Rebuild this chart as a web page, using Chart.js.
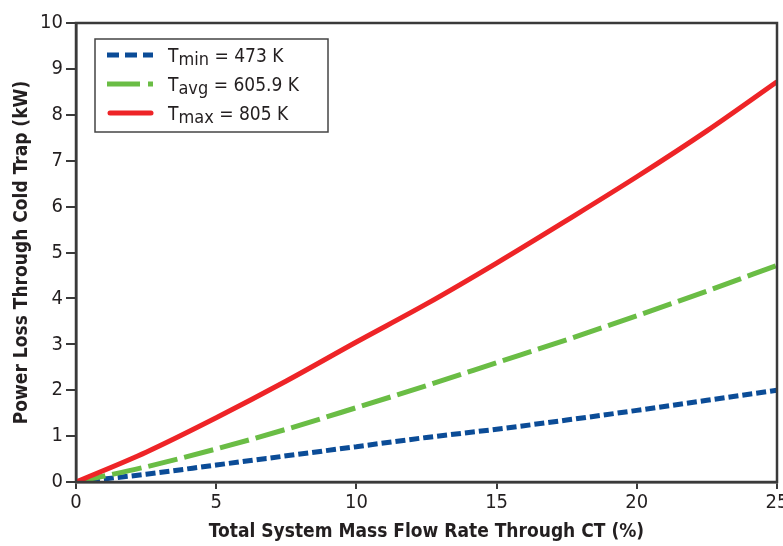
<!DOCTYPE html>
<html>
<head>
<meta charset="utf-8">
<script src="https://cdn.jsdelivr.net/npm/chart.js@4.4.0/dist/chart.umd.min.js"></script>
<style>
  html, body { margin: 0; padding: 0; background: #fff; }
  #wrap { width: 783px; height: 546px; }
</style>
</head>
<body>
<div id="wrap"><canvas id="canvas"></canvas></div>
<script>
// flow rate through cold trap (%)
var flowRate = [0, 2.5, 5, 7.5, 10, 12.5, 15, 17.5, 20, 22.5, 25];

// power loss (kW)
var tMin = [0, 0.17, 0.37, 0.57, 0.77, 0.97, 1.15, 1.35, 1.56, 1.78, 2.0];
var tAvg = [0, 0.33, 0.72, 1.15, 1.62, 2.10, 2.60, 3.10, 3.62, 4.16, 4.72];
var tMax = [0, 0.65, 1.40, 2.20, 3.05, 3.88, 4.77, 5.70, 6.65, 7.65, 8.72];

var seriesSub   = ["min", "avg", "max"];
var seriesRest  = [" = 473 K", " = 605.9 K", " = 805 K"];

var xTicks = [0, 5, 10, 15, 20, 25];
var yTicks = [0, 1, 2, 3, 4, 5, 6, 7, 8, 9, 10];

var FONT = "'Liberation Sans Narrow', 'DejaVu Sans Condensed', 'Liberation Sans', sans-serif";
var AXIS = "#3a3a3a";

function pts(ys) {
	return flowRate.map(function(x, i) { return { x: x, y: ys[i] }; });
}

// frame round the plot area
var framePlugin = {
	id: "frame",
	afterDatasetsDraw: function(chart) {
		var a = chart.chartArea, ctx = chart.ctx;
		ctx.save();
		ctx.strokeStyle = AXIS;
		ctx.lineWidth = 2.5;
		ctx.strokeRect(a.left, a.top, a.right - a.left, a.bottom - a.top);
		ctx.restore();
	}
};

// legend box inside the plot, like the original
var legendPlugin = {
	id: "boxLegend",
	afterDraw: function(chart) {
		var ctx = chart.ctx;
		var bx = 95, by = 39, bw = 233, bh = 93;
		ctx.save();
		ctx.fillStyle = "#fff";
		ctx.fillRect(bx, by, bw, bh);
		ctx.strokeStyle = "#444";
		ctx.lineWidth = 1.5;
		ctx.strokeRect(bx, by, bw, bh);

		var rows = [55, 84, 113];
		var dashes = [[12, 6], [33, 8, 8, 8], []];
		[0, 1, 2].forEach(function(k) {
			var ds = chart.data.datasets[k];
			var y = rows[k];
			ctx.beginPath();
			ctx.strokeStyle = ds.borderColor;
			ctx.lineWidth = 5;
			ctx.lineCap = k === 2 ? "round" : "butt";
			ctx.setLineDash(dashes[k]);
			ctx.moveTo(k === 2 ? 110 : 107, y);
			ctx.lineTo(k === 2 ? 151 : 153, y);
			ctx.stroke();
			ctx.setLineDash([]);

			ctx.fillStyle = "#231f20";
			ctx.textBaseline = "alphabetic";
			ctx.font = "19px " + FONT;
			var x = 168;
			ctx.fillText("T", x, y + 7);
			x += ctx.measureText("T").width;
			ctx.font = "18px " + FONT;
			ctx.fillText(seriesSub[k], x, y + 10);
			x += ctx.measureText(seriesSub[k]).width;
			ctx.font = "19px " + FONT;
			ctx.fillText(seriesRest[k], x, y + 7);
		});
		ctx.restore();
	}
};

var ctx = document.getElementById("canvas").getContext("2d");
var chart = new Chart(ctx, {
	type: "line",
	data: {
		datasets: [
			{
				label: "Tmin = 473 K",
				data: pts(tMin),
				borderColor: "#0b4c97",
				borderWidth: 5,
				borderDash: [10, 4],
				order: 2
			},
			{
				label: "Tavg = 605.9 K",
				data: pts(tAvg),
				borderColor: "#6abd45",
				borderWidth: 5,
				borderDash: [30, 7],
				order: 1
			},
			{
				label: "Tmax = 805 K",
				data: pts(tMax),
				borderColor: "#ee2427",
				borderWidth: 5,
				order: 0
			}
		]
	},
	options: {
		responsive: true,
		maintainAspectRatio: false,
		animation: false,
		devicePixelRatio: 1,
		elements: {
			point: { radius: 0 },
			line: { fill: false, cubicInterpolationMode: "monotone" }
		},
		layout: { padding: { top: 23, right: 6, left: 0, bottom: 0 } },
		plugins: {
			legend: { display: false },
			tooltip: { enabled: false }
		},
		scales: {
			x: {
				type: "linear",
				min: 0,
				max: 25,
				afterBuildTicks: function(s) { s.ticks = xTicks.map(function(v) { return { value: v }; }); },
				afterFit: function(s) { s.height = 64; s.paddingLeft = 0; s.paddingRight = 0; },
				grid: { drawOnChartArea: false, color: AXIS, lineWidth: 2, tickLength: 7, tickColor: AXIS },
				border: { color: AXIS, width: 2.5 },
				ticks: { color: "#231f20", font: { family: FONT, size: 20 }, padding: 2, maxRotation: 0 },
				title: {
					display: true,
					text: "Total System Mass Flow Rate Through CT (%)",
					color: "#231f20",
					font: { family: FONT, size: 19, weight: "bold" },
					padding: { top: 0, bottom: 3 }
				}
			},
			y: {
				min: 0,
				max: 10,
				afterBuildTicks: function(s) { s.ticks = yTicks.map(function(v) { return { value: v }; }); },
				afterFit: function(s) { s.width = 76; s.paddingTop = 0; s.paddingBottom = 0; },
				grid: { drawOnChartArea: false, color: AXIS, lineWidth: 2, tickLength: 10, tickColor: AXIS },
				border: { color: AXIS, width: 2.5 },
				ticks: { color: "#231f20", font: { family: FONT, size: 20 }, padding: 3 },
				title: {
					display: true,
					text: "Power Loss Through Cold Trap (kW)",
					color: "#231f20",
					font: { family: FONT, size: 19, weight: "bold" },
					padding: { top: 11, bottom: 0 }
				}
			}
		}
	},
	plugins: [framePlugin, legendPlugin]
});
</script>
</body>
</html>
